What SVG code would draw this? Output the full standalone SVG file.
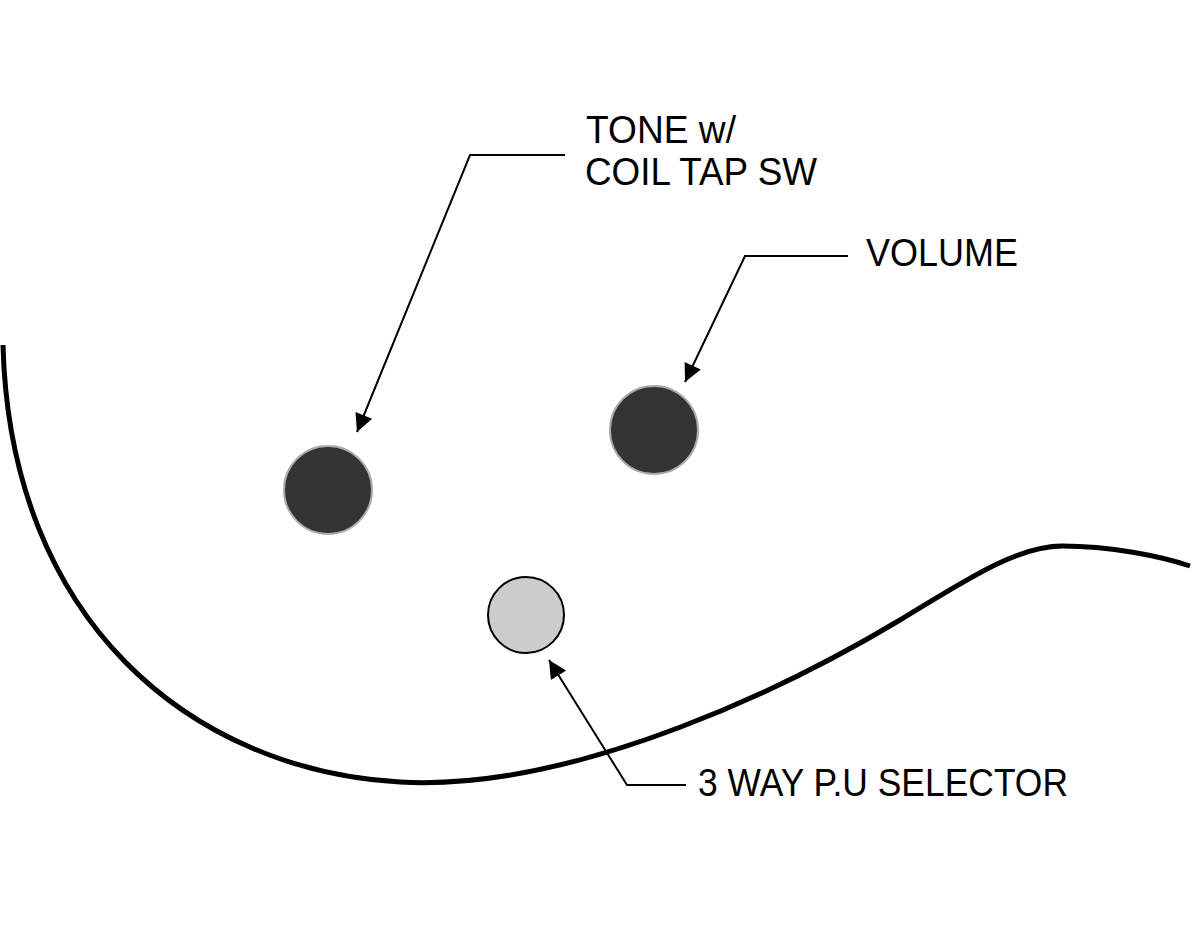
<svg xmlns="http://www.w3.org/2000/svg" width="1200" height="949" viewBox="0 0 1200 949">
<style>
.lbl{font-family:"Liberation Sans",Arial,sans-serif;font-size:38px;fill:#000}
.lead{fill:none;stroke:#000;stroke-width:2}
.knob{fill:#333;stroke:#aaa;stroke-width:2}
</style>
<defs>
<marker id="ahb" viewBox="0 0 10 10" refX="10" refY="5" markerWidth="24" markerHeight="18" markerUnits="userSpaceOnUse" orient="auto"><path d="M0,0 L10,5 L0,10 Z" fill="#000"/></marker>
</defs>
<rect width="1200" height="949" fill="#fff"/>
<path id="body" d="M3,345 C10,620 190,770 400,782 C580,792 800,680 900,620 C960,584 1015,546 1062,546 C1110,546 1160,556 1190,566" fill="none" stroke="#000" stroke-width="5"/>
<g id="tone"><circle class="knob" cx="328" cy="490" r="44"/></g>
<g id="volume"><circle class="knob" cx="654" cy="430" r="44"/></g>
<g id="selector"><circle cx="526" cy="615" r="38" fill="#ccc" stroke="#000" stroke-width="2"/></g>
<g id="connectors">
<path class="lead" d="M565,155 L470,155 L357,432" marker-end="url(#ahb)"/>
<path class="lead" d="M848,256 L745,256 L685,382" marker-end="url(#ahb)"/>
<path class="lead" d="M686,785 L627,785 L549,660" marker-end="url(#ahb)"/>
</g>
<g id="labels">
<text class="lbl" x="586" y="143" textLength="150" lengthAdjust="spacingAndGlyphs">TONE w/</text>
<text class="lbl" x="585" y="185" textLength="232" lengthAdjust="spacingAndGlyphs">COIL TAP SW</text>
<text class="lbl" x="866" y="266" textLength="152" lengthAdjust="spacingAndGlyphs">VOLUME</text>
<text class="lbl" x="698" y="796" textLength="370" lengthAdjust="spacingAndGlyphs">3 WAY P.U SELECTOR</text>
</g>
</svg>
